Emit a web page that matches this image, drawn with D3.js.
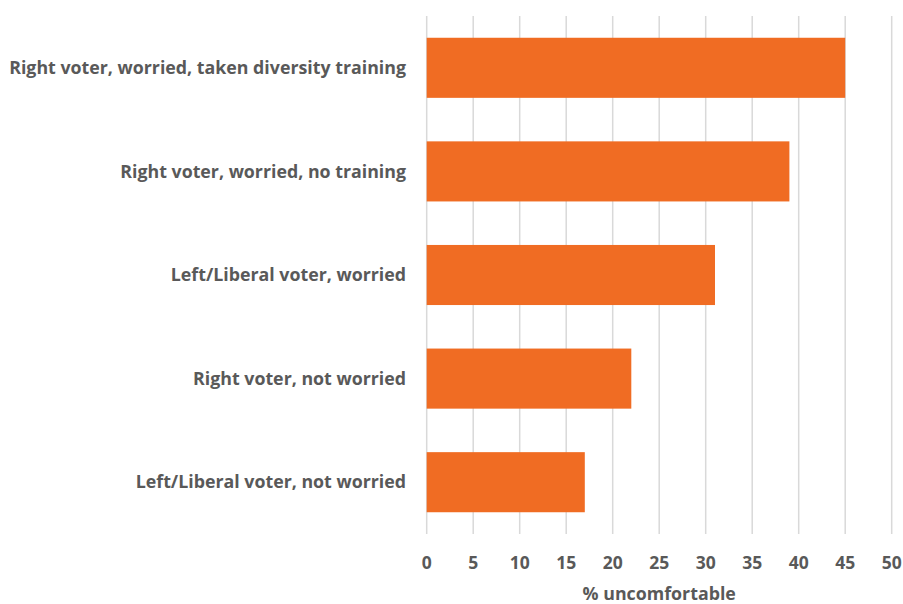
<!DOCTYPE html>
<html><head><meta charset="utf-8">
<script src="https://cdn.jsdelivr.net/npm/d3@7"></script>
<style>body{margin:0;background:#fff}</style>
</head><body>
<svg id="c" width="903" height="604"></svg>
<script>
const categories = ["Right voter, worried, taken diversity training","Right voter, worried, no training","Left/Liberal voter, worried","Right voter, not worried","Left/Liberal voter, not worried"];
const values = [45, 39, 31, 22, 17];
const ticks = [0,5,10,15,20,25,30,35,40,45,50];
const axisTitle = "% uncomfortable";

const svg = d3.select("#c");
const m = {left:426.7, right:891.7, top:16, bottom:534};
const x = d3.scaleLinear().domain([0,50]).range([m.left, m.right]);
const y = d3.scaleBand().domain(categories).range([m.top, m.bottom]).paddingInner(0.42).paddingOuter(0.21);
const font = "'Open Sans', sans-serif";
const tc = "#595959";

svg.append("g").selectAll("line").data(ticks).join("line")
  .attr("x1", d=>x(d)).attr("x2", d=>x(d)).attr("y1", m.top).attr("y2", m.bottom)
  .attr("stroke", "#d9d9d9").attr("stroke-width", 1.5);

svg.append("g").selectAll("rect").data(values).join("rect")
  .attr("x", x(0)).attr("y", (d,i)=>y(categories[i]))
  .attr("width", d=>x(d)-x(0)).attr("height", y.bandwidth())
  .attr("fill", "#F06C23");

svg.append("g").selectAll("text").data(categories).join("text")
  .attr("x", 406).attr("y", d=>y(d)+y.bandwidth()/2).attr("dy","0.35em")
  .attr("text-anchor","end").attr("font-family",font).attr("font-weight","bold")
  .attr("font-size",17.8).attr("fill",tc).text(d=>d);

svg.append("g").selectAll("text").data(ticks).join("text")
  .attr("x", d=>x(d)).attr("y", 563).attr("dy","0.35em")
  .attr("text-anchor","middle").attr("font-family",font).attr("font-weight","bold")
  .attr("font-size",17.5).attr("fill",tc).text(d=>d);

svg.append("text").attr("x",(m.left+m.right)/2).attr("y",594).attr("dy","0.35em")
  .attr("text-anchor","middle").attr("font-family",font).attr("font-weight","bold")
  .attr("font-size",17.8).attr("fill",tc).text(axisTitle);
</script>
</body></html>
